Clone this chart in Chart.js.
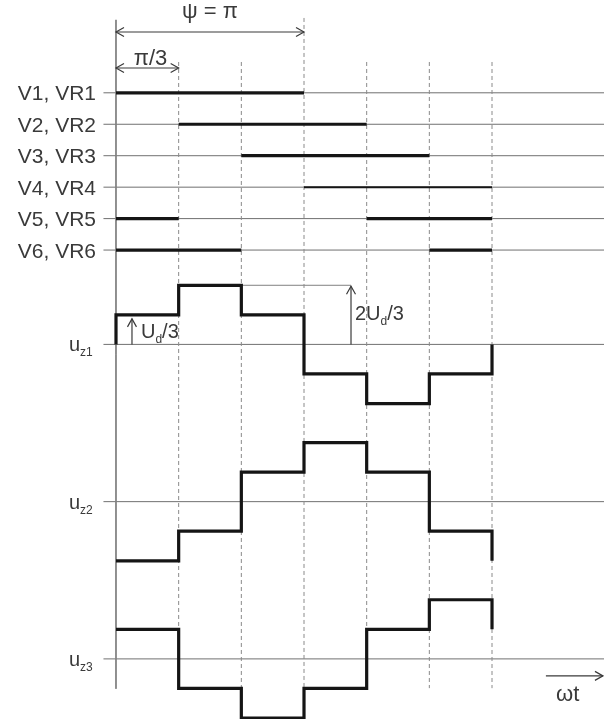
<!DOCTYPE html>
<html>
<head>
<meta charset="utf-8">
<script src="https://cdn.jsdelivr.net/npm/chart.js@4.4.0/dist/chart.umd.min.js"></script>
<style>
  html, body { margin: 0; padding: 0; background: #fff; }
  canvas { display: block; }
</style>
</head>
<body>
<canvas id="chart" width="604" height="719"></canvas>
<script>
// wt axis in steps of pi/3
const phases = [0, 1, 2, 3, 4, 5, 6];

// valve conduction per pi/3 interval (1 = conducting)
const valves = ['V1, VR1', 'V2, VR2', 'V3, VR3', 'V4, VR4', 'V5, VR5', 'V6, VR6'];
const v1 = [1, 1, 1, 0, 0, 0];
const v2 = [0, 1, 1, 1, 0, 0];
const v3 = [0, 0, 1, 1, 1, 0];
const v4 = [0, 0, 0, 1, 1, 1];
const v5 = [1, 0, 0, 0, 1, 1];
const v6 = [1, 1, 0, 0, 0, 1];
const valveStates = [v1, v2, v3, v4, v5, v6];

// phase voltages, in units of Ud/3, one level per interval
const uzNames = ['z1', 'z2', 'z3'];
const uz1 = [1, 2, 1, -1, -2, -1];
const uz2 = [-2, -1, 1, 2, 1, -1];
const uz3 = [1, -1, -2, -1, 1, 2];
const uzStart = [0, null, null];   // level before first step (null = no edge)
const uzEnd = [0, -2, 1];          // level after last step
const uzSeries = [uz1, uz2, uz3];

// layout (rows from the top, 1 row ~ 31px)
const valveRows = [0, 1, 2, 3, 4, 5];
const uzRows = [8, 13, 18];
const STEP = 0.94;          // height of Ud/3 in rows
const X_MIN = -1.851, X_MAX = 7.787;
const Y_MIN = -2.951, Y_MAX = 19.911;

const FONT = '"Liberation Sans", Arial, sans-serif';
const TEXT = '#3a3a3a';
const THIN = '#707070';
const INK = '#151515';

function line(points, opts) {
    return Object.assign({
        data: points,
        borderColor: THIN,
        borderWidth: 1,
        pointRadius: 0,
        fill: false,
        tension: 0,
        spanGaps: false,
        order: 3
    }, opts || {});
}

const datasets = [];

// axis
datasets.push(line([{x: 0, y: -2.32}, {x: 0, y: 18.95}], {borderColor: '#808080'}));

// dashed interval borders
phases.slice(1).forEach(p => {
    const top = p === 3 ? -2.38 : -0.98;
    datasets.push(line([{x: p, y: top}, {x: p, y: 18.93}], {borderColor: '#8a8a8a', borderDash: [4, 3]}));
});

// row base lines
valveRows.concat(uzRows).forEach(r => {
    datasets.push(line([{x: -0.2, y: r}, {x: X_MAX, y: r}], {borderColor: THIN}));
});

// valve conduction bars
valveStates.forEach((st, i) => {
    const pts = phases.map(k => {
        const on = st[k] === 1 || st[k - 1] === 1;
        return {x: k, y: on ? valveRows[i] : null};
    });
    datasets.push(line(pts, {borderColor: INK, borderWidth: i === 3 ? 2 : 3.2, order: 1, borderCapStyle: 'butt'}));
});

// reference line for 2Ud/3
datasets.push(line([{x: 2, y: uzRows[0] - 2 * STEP}, {x: 3.75, y: uzRows[0] - 2 * STEP}], {borderColor: '#808080'}));

// stepped phase voltages
uzSeries.forEach((lev, i) => {
    const base = uzRows[i];
    const pts = [];
    if (uzStart[i] !== null) pts.push({x: phases[0], y: base - uzStart[i] * STEP});
    lev.forEach((l, k) => pts.push({x: phases[k], y: base - l * STEP}));
    pts.push({x: phases[6], y: base - uzEnd[i] * STEP});
    datasets.push(line(pts, {borderColor: INK, borderWidth: 3.2, stepped: 'before', borderJoinStyle: 'miter', order: 0}));
});

function head(ctx, x, y, dx, dy) {
    // open arrow head pointing in (dx, dy)
    const L = 8, W = 4.5;
    const px = -dy, py = dx;
    ctx.beginPath();
    ctx.moveTo(x - dx * L + px * W, y - dy * L + py * W);
    ctx.lineTo(x, y);
    ctx.lineTo(x - dx * L - px * W, y - dy * L - py * W);
    ctx.stroke();
}

function withSub(ctx, x, y, parts) {
    // parts: [text, isSub]
    parts.forEach(([t, sub]) => {
        ctx.font = (sub ? '12px ' : '20px ') + FONT;
        ctx.fillText(t, x, y + (sub ? 5 : 0));
        x += ctx.measureText(t).width;
    });
}

const annotations = {
    id: 'annotations',
    afterDatasetsDraw(chart) {
        const ctx = chart.ctx;
        const X = v => chart.scales.x.getPixelForValue(v);
        const Y = v => chart.scales.y.getPixelForValue(v);
        ctx.save();
        ctx.strokeStyle = '#3a3a3a';
        ctx.fillStyle = TEXT;
        ctx.lineWidth = 1.2;
        ctx.textBaseline = 'alphabetic';

        // psi = pi span
        let y = Y(-1.933);
        ctx.beginPath(); ctx.moveTo(X(0), y); ctx.lineTo(X(3), y); ctx.stroke();
        head(ctx, X(0), y, -1, 0); head(ctx, X(3), y, 1, 0);
        ctx.font = '22px ' + FONT;
        ctx.textAlign = 'center';
        ctx.fillText('\u03c8 = \u03c0', X(1.5), Y(-2.38));

        // pi/3 span
        y = Y(-0.789);
        ctx.beginPath(); ctx.moveTo(X(0), y); ctx.lineTo(X(1), y); ctx.stroke();
        head(ctx, X(0), y, -1, 0); head(ctx, X(1), y, 1, 0);
        ctx.fillText('\u03c0/3', X(0.55), Y(-0.9));

        // valve labels
        ctx.textAlign = 'right';
        ctx.font = '21px ' + FONT;
        valves.forEach((v, i) => ctx.fillText(v, 96, Y(valveRows[i]) + 7.5));

        // uz labels
        ctx.textAlign = 'left';
        uzNames.forEach((n, i) => withSub(ctx, 69, Y(uzRows[i]) + 7, [['u', false], [n, true]]));

        // Ud/3
        const b = uzRows[0];
        let ax = X(0.255);
        ctx.beginPath(); ctx.moveTo(ax, Y(b)); ctx.lineTo(ax, Y(b - STEP) + 4); ctx.stroke();
        head(ctx, ax, Y(b - STEP) + 4, 0, -1);
        withSub(ctx, 141, Y(b) - 6, [['U', false], ['d', true], ['/3', false]]);

        // 2Ud/3
        ax = X(3.75);
        ctx.beginPath(); ctx.moveTo(ax, Y(b)); ctx.lineTo(ax, Y(b - 2 * STEP) + 1); ctx.stroke();
        head(ctx, ax, Y(b - 2 * STEP) + 1, 0, -1);
        withSub(ctx, 355, Y(b) - 24, [['2U', false], ['d', true], ['/3', false]]);

        // wt direction
        y = Y(18.54);
        ctx.beginPath(); ctx.moveTo(X(6.86), y); ctx.lineTo(X(7.77), y); ctx.stroke();
        head(ctx, X(7.77), y, 1, 0);
        ctx.font = '22px ' + FONT;
        ctx.fillText('\u03c9t', 556, Y(19.35));
        ctx.restore();
    }
};

new Chart(document.getElementById('chart'), {
    type: 'line',
    data: {datasets: datasets},
    options: {
        responsive: false,
        animation: false,
        events: [],
        layout: {padding: 0},
        scales: {
            x: {type: 'linear', min: X_MIN, max: X_MAX, display: false},
            y: {type: 'linear', min: Y_MIN, max: Y_MAX, reverse: true, display: false}
        },
        plugins: {legend: {display: false}, tooltip: {enabled: false}}
    },
    plugins: [annotations]
});
</script>
</body>
</html>
